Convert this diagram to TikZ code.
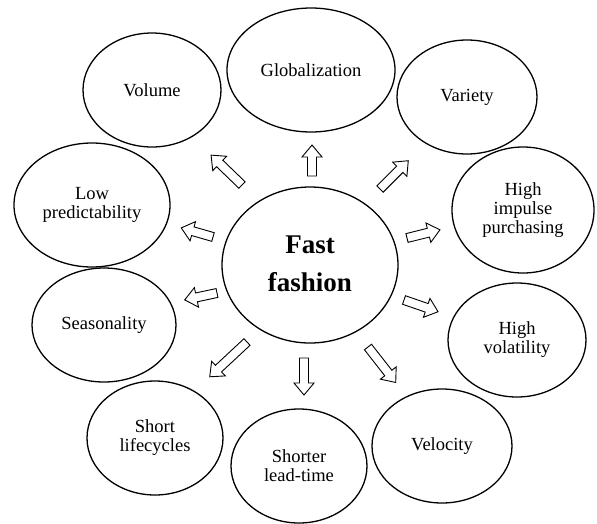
\documentclass[tikz,border=0pt]{standalone}
\usepackage{fontspec}
\setmainfont{Liberation Serif}
\usetikzlibrary{shapes.geometric}
\tikzset{
  oval/.style={ellipse, draw=black, line width=1.3pt, inner sep=0pt, align=center,
    font=\fontsize{18.5}{19}\selectfont},
  pics/barrow/.style={code={
    \draw[line width=0.9pt, fill=white, line join=miter]
      (0,-4.5) -- (#1-12,-4.5) -- (#1-12,-10) -- (#1,0) -- (#1-12,10) -- (#1-12,4.5) -- (0,4.5) -- cycle;}}
}
\begin{document}
\begin{tikzpicture}[x=1pt,y=-1pt]
\useasboundingbox (0,0) rectangle (597,523);
% ellipses
\node[oval, minimum width=176pt, minimum height=156pt, font=\fontsize{27}{38}\selectfont\bfseries] (c) at (310,265)
  {\raisebox{-5pt}{\begin{tabular}{@{}c@{}}Fast\\fashion\end{tabular}}};
\node[oval, minimum width=168pt, minimum height=124pt] (glob) at (311,70) {Globalization};
\node[oval, minimum width=138pt, minimum height=114pt] (vol) at (152,90) {Volume};
\node[oval, minimum width=140pt, minimum height=114pt] (var) at (467,97) {Variety};
\node[oval, minimum width=142pt, minimum height=126pt] (imp) at (523,210) {High\\impulse\\purchasing};
\node[oval, minimum width=156pt, minimum height=124pt] (low) at (92,205) {Low\\predictability};
\node[oval, minimum width=144pt, minimum height=114pt] (sea) at (104,325) {Seasonality};
\node[oval, minimum width=138pt, minimum height=114pt] (vola) at (517,340) {High\\volatility};
\node[oval, minimum width=140pt, minimum height=114pt] (velo) at (442,446) {Velocity};
\node[oval, minimum width=136pt, minimum height=114pt] (lead) at (299,466) {Shorter\\lead-time};
\node[oval, minimum width=136pt, minimum height=114pt] (life) at (155,438) {Short\\lifecycles};
% arrow tails
\coordinate (aglob) at (312,176);
\coordinate (avol) at (242,185);
\coordinate (avar) at (380,189);
\coordinate (alow) at (213,237);
\coordinate (asea) at (217,293);
\coordinate (alife) at (247,342);
\coordinate (alead) at (304,358);
\coordinate (avelo) at (368,347);
\coordinate (avola) at (404,300);
\coordinate (aimp) at (407,238);
% block arrows
\pic[rotate=90] at (aglob) {barrow=31};
\pic[rotate=136] at (avol) {barrow=43};
\pic[rotate=45] at (avar) {barrow=40};
\pic[rotate=164] at (alow) {barrow=33};
\pic[rotate=192] at (asea) {barrow=33};
\pic[rotate=223] at (alife) {barrow=51};
\pic[rotate=270] at (alead) {barrow=37};
\pic[rotate=-52] at (avelo) {barrow=45};
\pic[rotate=-19] at (avola) {barrow=36};
\pic[rotate=14] at (aimp) {barrow=34};
\end{tikzpicture}
\end{document}
